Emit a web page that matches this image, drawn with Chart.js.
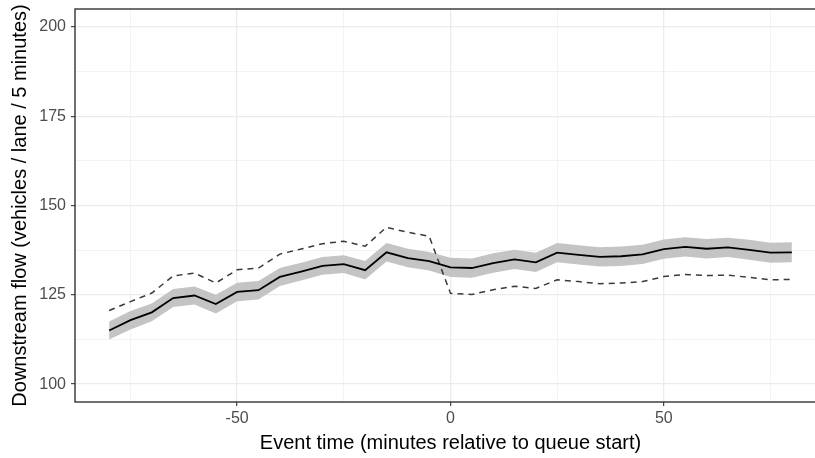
<!DOCTYPE html>
<html>
<head>
<meta charset="utf-8">
<script src="https://cdn.jsdelivr.net/npm/chart.js@4.4.1/dist/chart.umd.min.js"></script>
<style>
  html, body { margin: 0; padding: 0; background: #fff; overflow: hidden; }
  #wrap { width: 830px; height: 458px; }
</style>
</head>
<body>
<div id="wrap"><canvas id="flowChart" width="830" height="458"></canvas></div>
<script>
// minutes relative to queue start
var eventTimes = [-80, -75, -70, -65, -60, -55, -50, -45, -40, -35, -30, -25, -20, -15, -10, -5, 0,
  5, 10, 15, 20, 25, 30, 35, 40, 45, 50, 55, 60, 65, 70, 75, 80];

// mean downstream flow (solid) and its band
var meanFlow = [115.0, 117.9, 120.1, 124.1, 124.8, 122.4, 125.8, 126.3, 130.0, 131.5, 133.1, 133.6, 131.9, 136.9, 135.3, 134.4, 132.7,
  132.5, 133.9, 134.9, 134.1, 136.8, 136.2, 135.6, 135.8, 136.3, 137.8, 138.4, 137.9, 138.3, 137.6, 136.8, 136.9];
var lowerFlow = [112.5, 115.3, 117.6, 121.6, 122.3, 119.8, 123.2, 123.7, 127.5, 129.0, 130.6, 131.1, 129.3, 134.3, 132.7, 131.8, 130.0,
  129.8, 131.2, 132.2, 131.4, 134.1, 133.5, 132.9, 133.1, 133.6, 135.1, 135.7, 135.2, 135.6, 134.8, 134.0, 134.1];
var upperFlow = [117.5, 120.5, 122.6, 126.6, 127.3, 125.0, 128.4, 128.9, 132.5, 134.0, 135.6, 136.1, 134.5, 139.5, 137.9, 137.0, 135.4,
  135.2, 136.6, 137.6, 136.8, 139.5, 138.9, 138.3, 138.5, 139.0, 140.5, 141.1, 140.6, 141.0, 140.4, 139.6, 139.7];

// dashed comparison series
var compareFlow = [120.6, 123.1, 125.5, 130.3, 131.1, 128.3, 132.0, 132.5, 136.4, 137.8, 139.3, 140.0, 138.6, 143.9, 142.5, 141.4, 125.4,
  125.1, 126.4, 127.4, 126.8, 129.2, 128.7, 128.1, 128.3, 128.7, 130.1, 130.7, 130.4, 130.5, 129.9, 129.2, 129.3];

// major + minor grid positions
var xTicks = [-75, -50, -25, 0, 25, 50, 75];
var xLabels = [-50, 0, 50];
var yTicks = [100, 112.5, 125, 137.5, 150, 162.5, 175, 187.5, 200];
var yLabels = [100, 125, 150, 175, 200];

function points(values) {
  return eventTimes.map(function (t, i) { return { x: t, y: values[i] }; });
}

function isMajor(list, v) {
  return list.indexOf(v) !== -1;
}

const panelBorder = {
  id: 'panelBorder',
  afterDatasetsDraw(chart) {
    const a = chart.chartArea;
    const ctx = chart.ctx;
    ctx.save();
    ctx.strokeStyle = '#333333';
    ctx.lineWidth = 1.4;
    ctx.strokeRect(a.left, a.top, a.right - a.left, a.bottom - a.top);
    ctx.restore();
  }
};

Chart.defaults.font.family = "'Liberation Sans', Arial, sans-serif";

new Chart("flowChart", {
  type: "line",
  data: {
    datasets: [{
      data: points(lowerFlow),
      borderWidth: 0,
      pointRadius: 0,
      fill: false,
      order: 3
    }, {
      data: points(upperFlow),
      borderWidth: 0,
      pointRadius: 0,
      backgroundColor: "#C4C4C4",
      fill: "-1",
      order: 3
    }, {
      data: points(compareFlow),
      borderColor: "#3a3a3a",
      borderWidth: 1.5,
      borderDash: [6, 5],
      pointRadius: 0,
      fill: false,
      order: 2
    }, {
      data: points(meanFlow),
      borderColor: "#000000",
      borderWidth: 1.8,
      pointRadius: 0,
      fill: false,
      order: 1
    }]
  },
  options: {
    responsive: false,
    animation: false,
    layout: { padding: { top: 9, right: 4, left: 0, bottom: 0 } },
    plugins: {
      legend: { display: false },
      tooltip: { enabled: false }
    },
    scales: {
      x: {
        type: "linear",
        min: -88,
        max: 88,
        afterBuildTicks: function (s) { s.ticks = xTicks.map(function (v) { return { value: v }; }); },
        afterFit: function (s) { s.height = 56; s.paddingLeft = 0; s.paddingRight = 0; },
        border: { display: false },
        grid: {
          color: "#EBEBEB",
          lineWidth: function (c) { return isMajor(xLabels, c.tick.value) ? 1.3 : 0.6; },
          tickLength: 4,
          tickWidth: 1.1,
          tickColor: function (c) { return isMajor(xLabels, c.tick.value) ? "#333333" : "rgba(0,0,0,0)"; }
        },
        ticks: {
          color: "#4D4D4D",
          font: { size: 16 },
          padding: 3,
          maxRotation: 0,
          autoSkip: false,
          callback: function (v) { return isMajor(xLabels, v) ? String(v) : ""; }
        },
        title: {
          display: true,
          text: "Event time (minutes relative to queue start)",
          color: "#000000",
          font: { size: 20 },
          padding: { top: 0, bottom: 3 }
        }
      },
      y: {
        type: "linear",
        min: 95,
        max: 205,
        afterBuildTicks: function (s) { s.ticks = yTicks.map(function (v) { return { value: v }; }); },
        afterFit: function (s) { s.width = 75; s.paddingTop = 0; s.paddingBottom = 0; },
        border: { display: false },
        grid: {
          color: "#EBEBEB",
          lineWidth: function (c) { return isMajor(yLabels, c.tick.value) ? 1.3 : 0.6; },
          tickLength: 4,
          tickWidth: 1.1,
          tickColor: function (c) { return isMajor(yLabels, c.tick.value) ? "#333333" : "rgba(0,0,0,0)"; }
        },
        ticks: {
          color: "#4D4D4D",
          font: { size: 16 },
          padding: 5,
          autoSkip: false,
          callback: function (v) { return isMajor(yLabels, v) ? String(v) : ""; }
        },
        title: {
          display: true,
          text: "Downstream flow (vehicles / lane / 5 minutes)",
          color: "#000000",
          font: { size: 20 },
          padding: { top: 8, bottom: 0 }
        }
      }
    }
  },
  plugins: [panelBorder]
});
</script>
</body>
</html>
